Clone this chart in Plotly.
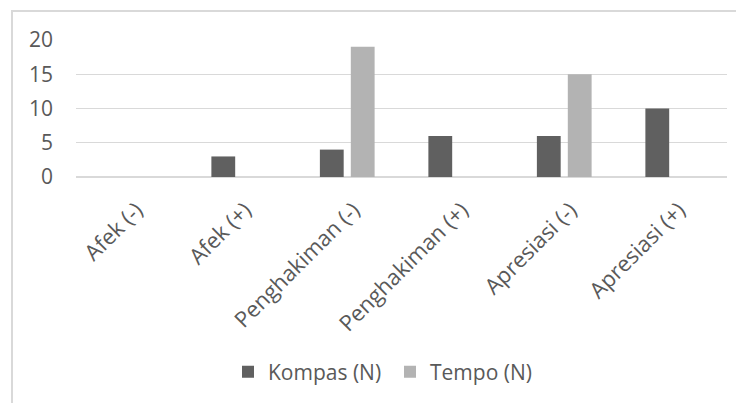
import plotly.graph_objects as go

categories = ["Afek (-)", "Afek (+)", "Penghakiman (-)", "Penghakiman (+)", "Apresiasi (-)", "Apresiasi (+)"]
kompas = [0, 3, 4, 6, 6, 10]
tempo = [0, 0, 19, 0, 15, 0]
y_ticks = [0, 5, 10, 15, 20]

# page body has an 8px default margin; lay out in page pixels, convert to figure pixels
OFF = 8
W, H = 744 - OFF, 403 - OFF
plot_left, plot_right, plot_top, plot_bottom = 76, 727, 40, 177  # page pixels
L = plot_left - OFF
T = plot_top - OFF
pw = plot_right - plot_left
ph = plot_bottom - plot_top
R = W - L - pw
B = H - T - ph

grid = "#d9d9d9"
txt = "#595959"

def px_to_paper_x(px):
    return (px - plot_left) / pw

def px_to_paper_y(py):
    return (plot_bottom - py) / ph

fig = go.Figure()
fig.add_trace(go.Bar(x=categories, y=kompas, name="Kompas (N)", marker=dict(color="#606060", line=dict(width=0))))
fig.add_trace(go.Bar(x=categories, y=tempo, name="Tempo (N)", marker=dict(color="#b3b3b3", line=dict(width=0))))

fig.update_layout(
    width=W, height=H,
    margin=dict(l=L, r=R, t=T, b=B, pad=0, autoexpand=False),
    paper_bgcolor="white", plot_bgcolor="white",
    font=dict(family="Open Sans", size=21, color=txt),
    barmode="group", bargap=0.43, bargroupgap=0.23,
    showlegend=True,
    legend=dict(orientation="h", x=px_to_paper_x(228), xanchor="left",
                y=px_to_paper_y(372), yanchor="middle",
                entrywidth=117, entrywidthmode="pixels",
                font=dict(size=21, color=txt), bgcolor="rgba(0,0,0,0)",
                itemclick=False),
    xaxis=dict(tickangle=-45, showgrid=False, showline=False, ticks="", automargin=False,
               ticklabelstandoff=15, ticklabelshift=6, tickfont=dict(size=22, color=txt)),
    yaxis=dict(range=[0, 20], tickvals=y_ticks, showgrid=True, gridcolor=grid, gridwidth=1,
               zeroline=True, zerolinecolor=grid, zerolinewidth=1.5, showline=False, ticks="",
               automargin=False,
               ticklabelstandoff=22, tickfont=dict(size=21, color=txt)),
    shapes=[
        dict(type="line", xref="paper", yref="paper",
             x0=px_to_paper_x(11), x1=px_to_paper_x(760), y0=px_to_paper_y(11), y1=px_to_paper_y(11),
             line=dict(color=grid, width=2)),
        dict(type="line", xref="paper", yref="paper",
             x0=px_to_paper_x(12), x1=px_to_paper_x(12), y0=px_to_paper_y(10), y1=px_to_paper_y(420),
             line=dict(color=grid, width=2)),
    ],
)

fig.write_html("out.html")
